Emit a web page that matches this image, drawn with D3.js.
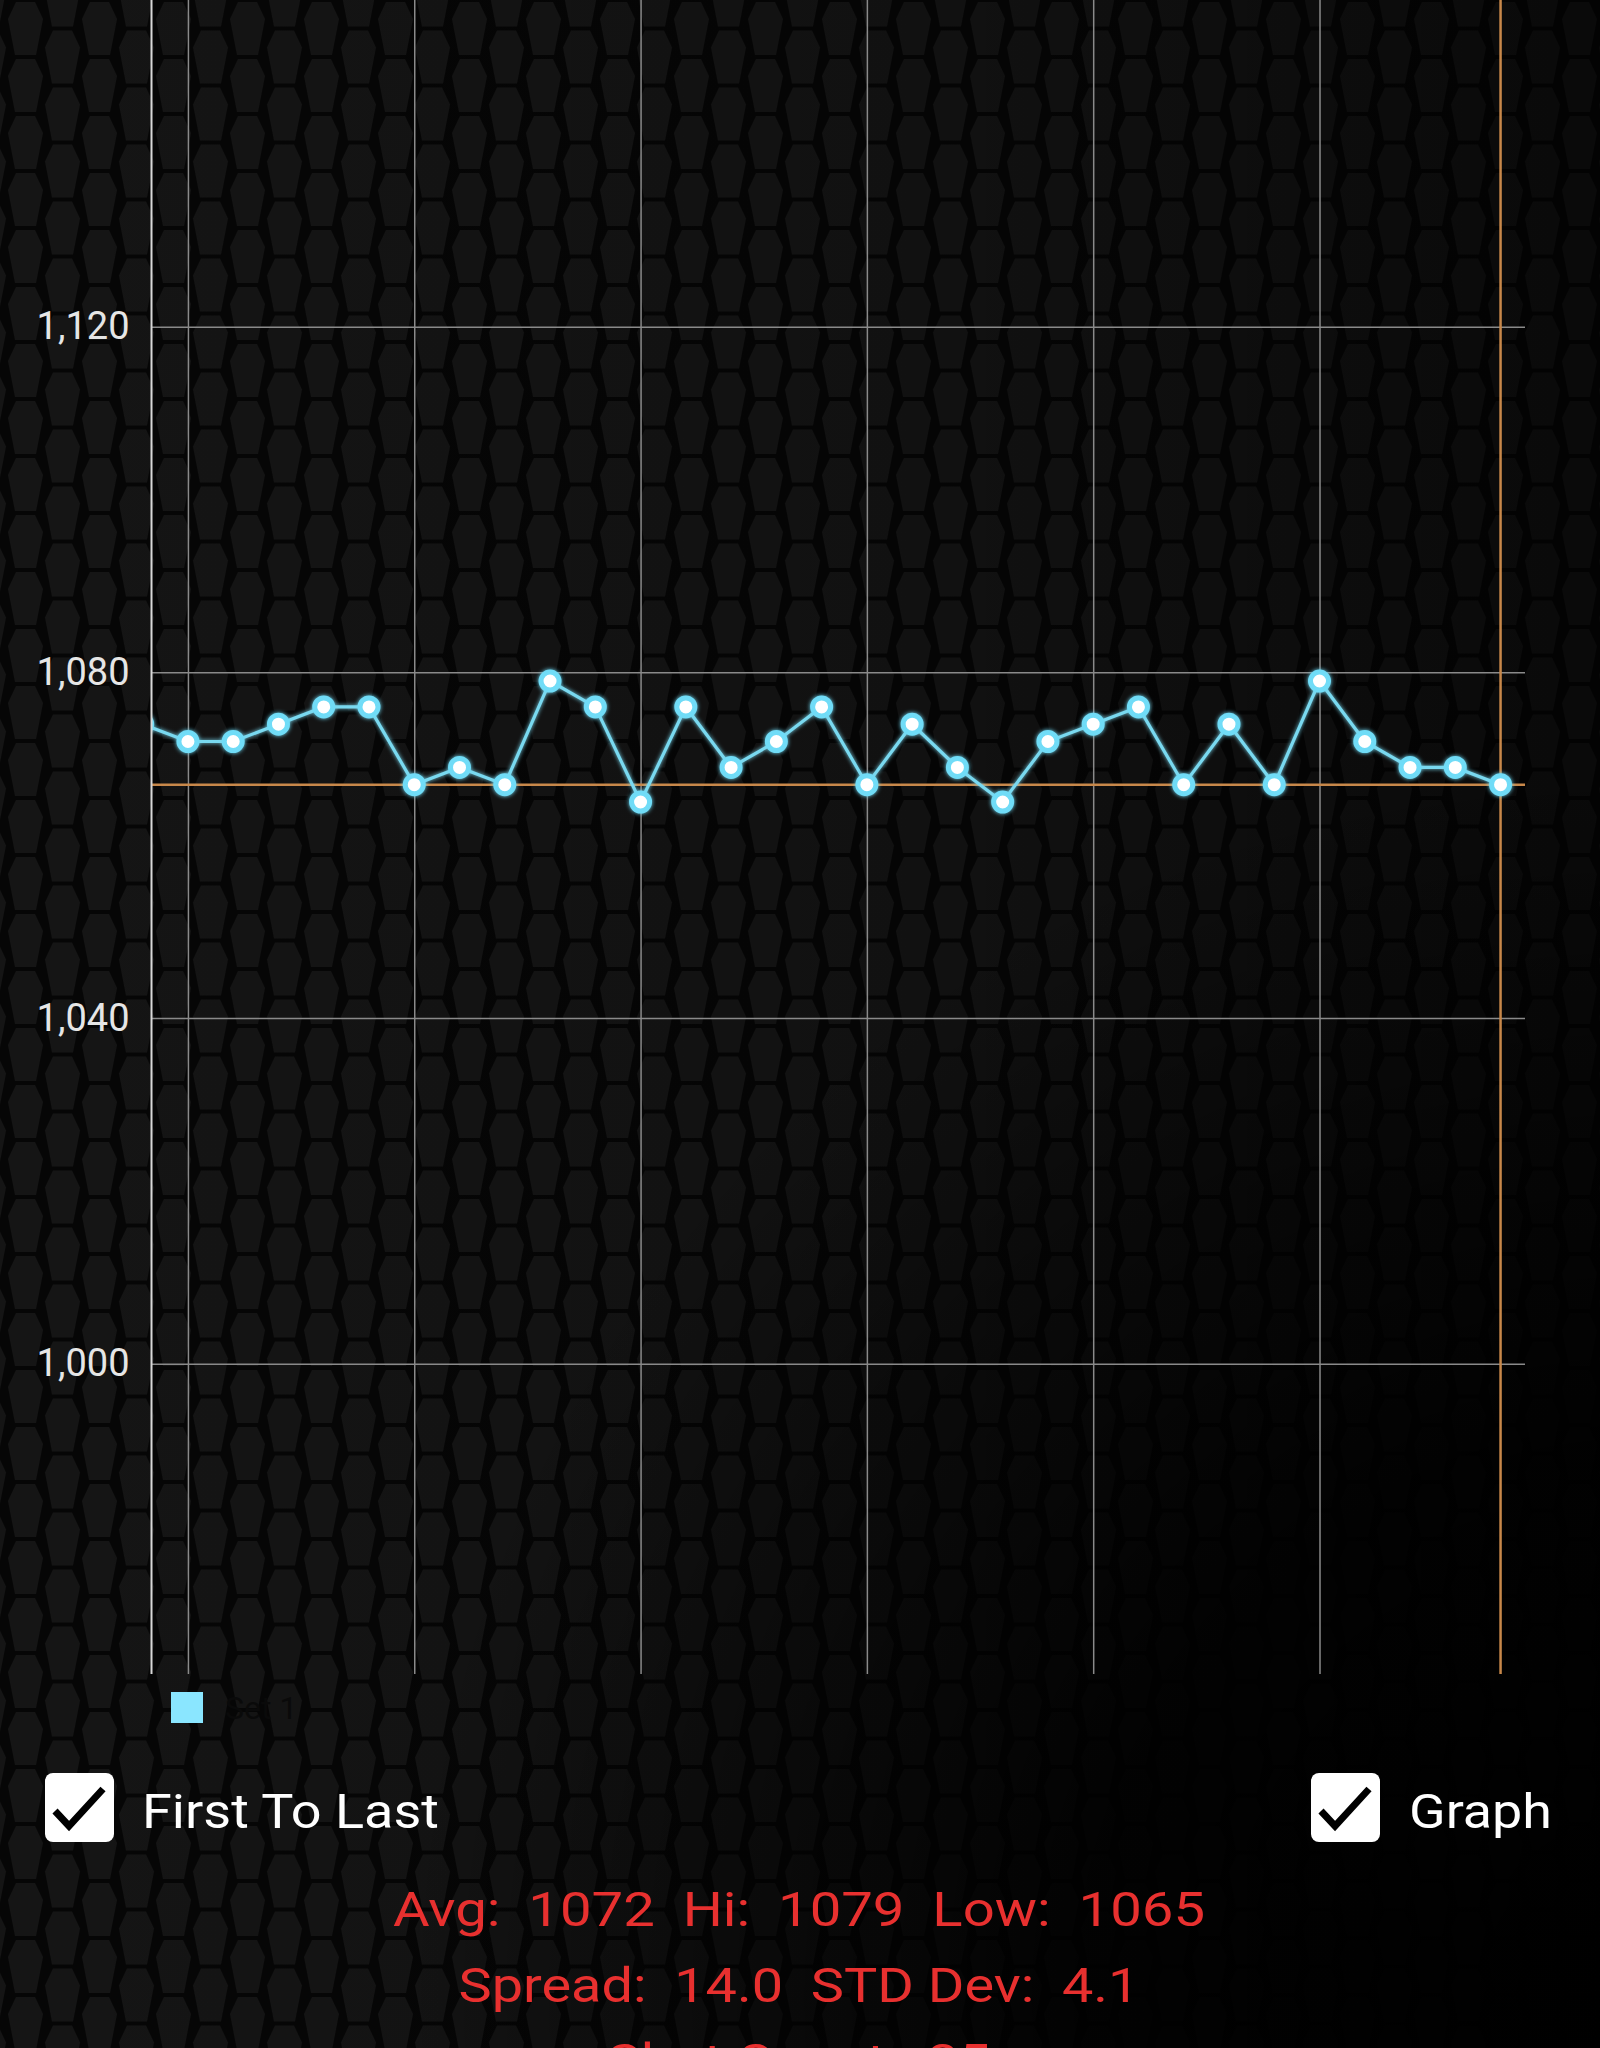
<!DOCTYPE html>
<html>
<head>
<meta charset="utf-8">
<script src="https://cdn.jsdelivr.net/npm/d3@7"></script>
<style>
  html, body { margin: 0; padding: 0; background: #070707; }
  svg { display: block; }
  text { font-family: Roboto, "Noto Sans", sans-serif; }
</style>
</head>
<body>
<svg id="chart" width="1600" height="2048"></svg>
<script>
// ---- data ----
const shotIndex = [4,5,6,7,8,9,10,11,12,13,14,15,16,17,18,19,20,21,22,23,24,25,26,27,28,29,30,31,32,33,34];
const velocity  = [1074,1072,1072,1074,1076,1076,1067,1069,1067,1079,1076,1065,1076,1069,1072,1076,1067,1074,1069,1065,1072,1074,1076,1067,1074,1067,1079,1072,1069,1069,1067];
const yTicks = [1000, 1040, 1080, 1120, 1160];
const xGridTicks = [5, 10, 15, 20, 25, 30];
const markerShot = 34;
const markerValue = 1067;
const seriesName = "Set 1";
const checkLabels = ["First To Last", "Graph"];
const statsLines = [
  "Avg:  1072  Hi:  1079  Low:  1065",
  "Spread:  14.0  STD Dev:  4.1",
  "Shot Count:  35"
];

// ---- layout ----
const W = 1600, H = 2048;
const plot = { left: 151.5, right: 1525, top: 0, bottom: 1674 };
const svg = d3.select("#chart");
const defs = svg.append("defs");

// hex background pattern
const pat = defs.append("pattern").attr("id", "hex").attr("patternUnits", "userSpaceOnUse")
  .attr("width", 74).attr("height", 57).attr("x", 8).attr("y", 2);
pat.append("rect").attr("width", 74).attr("height", 57).attr("fill", "#060606");
const hexPts = (ox, oy) => [[8,0],[27,0],[35,17],[28,53],[7,53],[0,17]].map(p => [p[0]+ox, p[1]+oy].join(",")).join(" ");
[[0,0],[37,28.5],[37,-28.5],[0,57]].forEach(o => {
  pat.append("polygon").attr("points", hexPts(o[0], o[1])).attr("fill", "#151515");
});
const fade = defs.append("radialGradient").attr("id", "fade").attr("gradientUnits", "userSpaceOnUse")
  .attr("cx", 1650).attr("cy", 2000).attr("r", 1250);
fade.append("stop").attr("offset", "0%").attr("stop-color", "#000").attr("stop-opacity", 1);
fade.append("stop").attr("offset", "45%").attr("stop-color", "#000").attr("stop-opacity", 0.85);
fade.append("stop").attr("offset", "100%").attr("stop-color", "#000").attr("stop-opacity", 0);
const fade2 = defs.append("linearGradient").attr("id", "fade2").attr("x1", 0).attr("y1", 0).attr("x2", 1).attr("y2", 0);
fade2.append("stop").attr("offset", "0%").attr("stop-color", "#000").attr("stop-opacity", 0);
fade2.append("stop").attr("offset", "60%").attr("stop-color", "#000").attr("stop-opacity", 0.2);
fade2.append("stop").attr("offset", "100%").attr("stop-color", "#000").attr("stop-opacity", 0.55);

svg.append("rect").attr("width", W).attr("height", H).attr("fill", "url(#hex)");
svg.append("rect").attr("width", W).attr("height", H).attr("fill", "url(#fade2)");
svg.append("rect").attr("width", W).attr("height", H).attr("fill", "url(#fade)");

// glow filter
const glow = defs.append("filter").attr("id", "glow").attr("x", "-50%").attr("y", "-50%").attr("width", "200%").attr("height", "200%");
glow.append("feGaussianBlur").attr("in", "SourceGraphic").attr("stdDeviation", 2.2).attr("result", "b");
const fm = glow.append("feMerge");
fm.append("feMergeNode").attr("in", "b");
fm.append("feMergeNode").attr("in", "SourceGraphic");

defs.append("clipPath").attr("id", "plotClip").append("rect")
  .attr("x", plot.left).attr("y", plot.top).attr("width", plot.right - plot.left).attr("height", plot.bottom - plot.top);

// ---- scales ----
const x = d3.scaleLinear().domain([4.195, 34.54]).range([plot.left, plot.right]);
const y = d3.scaleLinear().domain([964.1, 1157.8]).range([plot.bottom, plot.top]);

// horizontal grid
const yAxis = d3.axisLeft(y).tickValues(yTicks).tickSize(-(plot.right - plot.left)).tickPadding(22)
  .tickFormat(d3.format(","));
const gy = svg.append("g").attr("transform", `translate(${plot.left},0)`).call(yAxis);
gy.select(".domain").remove();
gy.selectAll(".tick line").attr("stroke", "#8a8a8a").attr("stroke-width", 1.5);
gy.selectAll(".tick text").attr("fill", "#e6e6e6").attr("font-size", 38).attr("font-family", "Roboto");

// vertical grid
const xAxis = d3.axisBottom(x).tickValues(xGridTicks).tickSize(-(plot.bottom - plot.top)).tickFormat("");
const gx = svg.append("g").attr("transform", `translate(0,${plot.bottom})`).call(xAxis);
gx.select(".domain").remove();
gx.selectAll(".tick line").attr("stroke", "#8a8a8a").attr("stroke-width", 1.5);

// orange marker lines
svg.append("line").attr("x1", plot.left).attr("x2", plot.right).attr("y1", y(markerValue)).attr("y2", y(markerValue))
  .attr("stroke", "#c8884a").attr("stroke-width", 2.5);
svg.append("line").attr("x1", x(markerShot)).attr("x2", x(markerShot)).attr("y1", plot.top).attr("y2", plot.bottom)
  .attr("stroke", "#c8884a").attr("stroke-width", 2.5);

// series
const data = shotIndex.map((s, i) => ({ s, v: velocity[i] }));
const series = svg.append("g").attr("clip-path", "url(#plotClip)").attr("filter", "url(#glow)");
series.append("path").datum(data)
  .attr("d", d3.line().x(d => x(d.s)).y(d => y(d.v)))
  .attr("fill", "none").attr("stroke", "#79d9f0").attr("stroke-width", 3.2);
series.selectAll("circle").data(data).join("circle")
  .attr("cx", d => x(d.s)).attr("cy", d => y(d.v)).attr("r", 9)
  .attr("fill", "#ffffff").attr("stroke", "#6fdcf7").attr("stroke-width", 5);

// left axis line
svg.append("line").attr("x1", plot.left).attr("x2", plot.left).attr("y1", plot.top).attr("y2", plot.bottom)
  .attr("stroke", "#d8d8d8").attr("stroke-width", 2);

// legend
svg.append("rect").attr("x", 171).attr("y", 1692).attr("width", 32).attr("height", 31).attr("fill", "#8ae6ff");
svg.append("text").attr("x", 225).attr("y", 1719).attr("font-size", 32).attr("fill", "#0a0a0a").text(seriesName);

// checkboxes
const checks = [{ bx: 45, tx: 142, w: 297 }, { bx: 1311, tx: 1409, w: 143 }];
checks.forEach((c, i) => {
  svg.append("rect").attr("x", c.bx).attr("y", 1773).attr("width", 69).attr("height", 69).attr("rx", 8).attr("fill", "#ffffff");
  svg.append("polyline").attr("points", [[c.bx + 10, 1811], [c.bx + 24, 1826], [c.bx + 58, 1789]].map(p => p.join(",")).join(" "))
    .attr("fill", "none").attr("stroke", "#000").attr("stroke-width", 7).attr("stroke-linejoin", "miter");
  svg.append("text").attr("x", c.tx).attr("y", 1828).attr("font-size", 48).attr("fill", "#ffffff")
    .attr("textLength", c.w).attr("lengthAdjust", "spacingAndGlyphs").text(checkLabels[i]);
});

// stats
const statW = [812, 681];
const st = svg.append("g").selectAll("text").data(statsLines).join("text")
  .attr("x", 799).attr("y", (d, i) => 1926 + i * 76)
  .attr("text-anchor", "middle").attr("font-size", 49).attr("fill", "#e8302f")
  .style("white-space", "pre").text(d => d);
const nodes = st.nodes();
const ratio = statW[0] / nodes[0].getComputedTextLength();
st.attr("textLength", (d, i) => statW[i] !== undefined ? statW[i] : nodes[i].getComputedTextLength() * ratio)
  .attr("lengthAdjust", "spacingAndGlyphs");
</script>
</body>
</html>
